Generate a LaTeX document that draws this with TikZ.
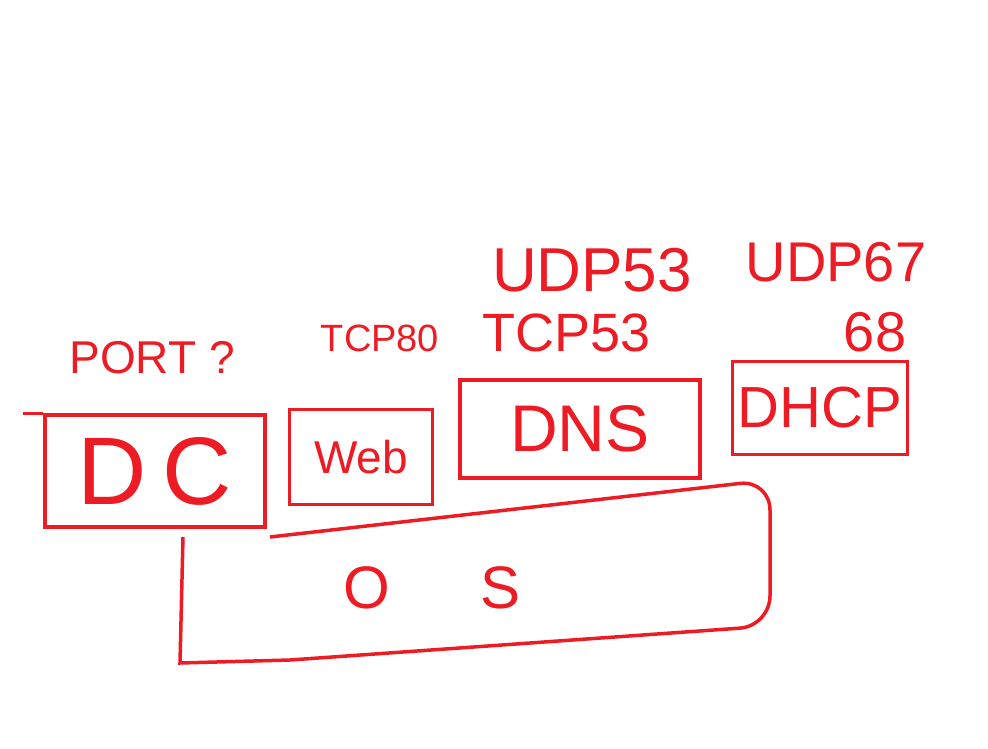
\documentclass[tikz,border=0pt]{standalone}
\usepackage{fontspec}
\setmainfont{Liberation Sans}
\definecolor{paintred}{HTML}{ED1C24}

\begin{document}
\begin{tikzpicture}[x=1pt,y=-1pt,line width=3.5pt,
  every node/.style={text=paintred,inner sep=0pt},
  service/.style={draw=paintred,line width=3.5pt},
  port/.style={font=\fontsize{38}{40}\selectfont}]
\useasboundingbox (0,0) rectangle (988,749);
% define the services
  \node[service,minimum width=220,minimum height=112] (dc)   at (155,471) {\fontsize{96}{100}\selectfont D\,C};
  \node[service,minimum width=143,minimum height=95]  (web)  at (361,457) {\fontsize{46}{50}\selectfont Web};
  \node[service,minimum width=240,minimum height=98]  (dns)  at (580,429) {\fontsize{66}{70}\selectfont DNS};
  \node[service,minimum width=175,minimum height=93]  (dhcp) at (820,408) {\fontsize{58}{62}\selectfont DHCP};
  \node (os) at (432,588) {\fontsize{60}{64}\selectfont O\hspace{1.5em}S};

% define the ports
  \node[font=\fontsize{46}{48}\selectfont] (dcport) at (152,358) {PORT ?};
  \node[port] (webport)  at (380,338) {TCP80};
  \node[font=\fontsize{62}{64}\selectfont] (dnsudp) at (592,270) {UDP53};
  \node[font=\fontsize{54}{56}\selectfont] (dnstcp) at (567,333) {TCP53};
  \node[font=\fontsize{56}{58}\selectfont] (dhcpudp) at (836,262) {UDP67};
  \node[font=\fontsize{56}{58}\selectfont] (dhcpudp2) at (875,332) {68};

% the operating system underneath
  \draw[paintred] (dc.north west) -- ++(-20,0);
  \draw[paintred] (183,537) -- (180,663) -- (290,660) [rounded corners=30] -- (770,626) -- (770,480) -- (270,537);
\end{tikzpicture}
\end{document}
